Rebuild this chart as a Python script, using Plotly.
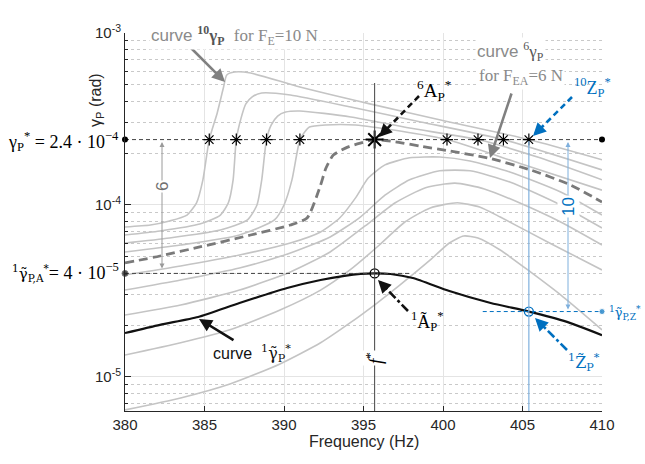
import plotly.graph_objects as go

# ---------------- data ----------------
f_c10 = [380, 381.6, 382.8, 383.9, 384.5, 384.9, 385.3, 385.8, 386.2, 386.4, 386.9, 387.9, 391.0, 395.4, 400.4, 405.4, 410]
a_c10 = [7.45e-5, 7.65e-5, 8.07e-5, 8.74e-5, 1.03e-4, 1.40e-4, 2.4e-4, 3.43e-4, 4.85e-4, 5.70e-4, 5.93e-4, 5.85e-4, 4.85e-4, 3.87e-4, 3.04e-4, 2.4e-4, 1.83e-4]
f_c9 = [380, 382.2, 384.7, 386.0, 386.5, 386.8, 387.0, 387.3, 387.6, 388.0, 388.6, 390.4, 394.2, 398.6, 403.8, 410]
a_c9 = [6.69e-5, 7.06e-5, 7.75e-5, 8.74e-5, 1.03e-4, 1.40e-4, 2.4e-4, 3.20e-4, 3.87e-4, 4.25e-4, 4.48e-4, 4.36e-4, 3.71e-4, 3.04e-4, 2.4e-4, 1.60e-4]
f_c8 = [380, 382.8, 386.0, 387.7, 388.3, 388.6, 388.9, 389.2, 389.6, 390.1, 391.0, 394.2, 397.9, 402.2, 406.1, 410]
a_c8 = [6.01e-5, 6.43e-5, 7.15e-5, 8.18e-5, 1.0e-4, 1.40e-4, 2.4e-4, 2.92e-4, 3.29e-4, 3.47e-4, 3.52e-4, 3.25e-4, 2.80e-4, 2.4e-4, 1.88e-4, 1.40e-4]
f_c7 = [380, 383.5, 387.2, 389.4, 390.0, 390.5, 391.0, 391.3, 391.6, 392.6, 394.5, 397.3, 400.25, 404.8, 410]
a_c7 = [5.33e-5, 5.85e-5, 6.69e-5, 8.18e-5, 1.0e-4, 1.40e-4, 2.4e-4, 2.66e-4, 2.84e-4, 2.92e-4, 2.92e-4, 2.69e-4, 2.4e-4, 1.75e-4, 1.22e-4]
f_c6 = [380, 382.2, 384.7, 387.9, 390.4, 391.45, 392.26, 392.64, 393.1, 394.0, 394.8, 395.7, 397.0, 398.55, 400.4, 402.8, 405.5, 408.0, 410]
a_c6 = [4.60e-5, 5.05e-5, 5.70e-5, 6.69e-5, 7.65e-5, 8.40e-5, 1.27e-4, 1.64e-4, 1.95e-4, 2.17e-4, 2.29e-4, 2.4e-4, 2.33e-4, 2.20e-4, 2.06e-4, 1.88e-4, 1.60e-4, 1.31e-4, 1.04e-4]
f_c5 = [380, 383.5, 387.2, 390.4, 392.3, 393.5, 394.5, 395.3, 396.35, 397.9, 399.8, 401.7, 404.2, 407.4, 410]
a_c5 = [3.92e-5, 4.42e-5, 5.12e-5, 6.01e-5, 6.97e-5, 8.40e-5, 1.10e-4, 1.435e-4, 1.71e-4, 1.88e-4, 1.90e-4, 1.80e-4, 1.555e-4, 1.19e-4, 8.74e-5]
f_c4 = [380, 383.5, 387.2, 390.4, 392.9, 394.8, 396.35, 397.9, 399.8, 401.7, 404.2, 407.4, 410]
a_c4 = [3.20e-5, 3.66e-5, 4.30e-5, 5.26e-5, 6.52e-5, 8.51e-5, 1.14e-4, 1.40e-4, 1.58e-4, 1.58e-4, 1.36e-4, 1.0e-4, 7.35e-5]
f_c3 = [380, 383.5, 387.2, 390.4, 392.9, 395.1, 397.0, 398.9, 400.75, 402.6, 404.8, 407.4, 410]
a_c3 = [2.29e-5, 2.62e-5, 3.20e-5, 4.08e-5, 5.33e-5, 7.55e-5, 1.03e-4, 1.26e-4, 1.34e-4, 1.24e-4, 1.03e-4, 7.96e-5, 5.85e-5]
f_c2 = [380, 383.5, 386.6, 389.75, 392.3, 394.15, 396.0, 397.6, 399.2, 400.9, 402.3, 403.6, 406.7, 410]
a_c2 = [1.34e-5, 1.58e-5, 1.88e-5, 2.45e-5, 3.20e-5, 4.19e-5, 5.85e-5, 7.96e-5, 9.61e-5, 1.03e-4, 9.73e-5, 8.51e-5, 6.01e-5, 4.19e-5]
f_c1 = [380, 383.5, 386.6, 389.75, 392.3, 394.15, 395.85, 397.3, 399.2, 400.4, 401.3, 402.2, 403.6, 405.5, 407.4, 410]
a_c1 = [6.43e-6, 7.55e-6, 9.1e-6, 1.19e-5, 1.58e-5, 2.06e-5, 2.69e-5, 3.43e-5, 4.79e-5, 6.01e-5, 6.60e-5, 6.43e-5, 5.47e-5, 4.08e-5, 3.00e-5, 1.88e-5]
f_lin = [380, 382.2, 384.6, 387.2, 390.2, 392.3, 393.8, 394.8, 395.7, 396.7, 398.1, 400.4, 403.0, 405.4, 407.8, 410]
a_lin = [1.80e-5, 2.01e-5, 2.23e-5, 2.69e-5, 3.29e-5, 3.66e-5, 3.87e-5, 3.97e-5, 4.0e-5, 3.97e-5, 3.76e-5, 3.16e-5, 2.69e-5, 2.4e-5, 2.09e-5, 1.75e-5]

f_stars = [385.3, 387.0, 388.9, 391.0, 400.25, 402.2, 403.8, 405.4]
gamma_star = 2.4e-4
gamma_A = 4e-5
gamma_Z = 2.4e-5
f_star = 395.7
f_Z = 405.4
x_ticks = [380, 385, 390, 395, 400, 405, 410]
y_ticks = [1e-5, 1e-4, 1e-3]
y_ticktext = ["10<sup>-5</sup>", "10<sup>-4</sup>", "10<sup>-3</sup>"]

# ---------------- layout helpers ----------------
W, H = 645, 464
L, R, T, B = 125, 602, 33, 411
px = lambda x: (x - L) / (R - L)
py = lambda y: (B - y) / (B - T)

GRAY = "#c4c4c4"
BLUE = "#0070C0"
TXTGRAY = "#8a8a8a"
SERIF = "Liberation Serif"
SERIF2 = "DejaVu Serif"
SANS = "Liberation Sans"

fig = go.Figure()

gray_curves = [(f_c1, a_c1), (f_c2, a_c2), (f_c3, a_c3), (f_c4, a_c4), (f_c5, a_c5),
               (f_c7, a_c7), (f_c8, a_c8), (f_c9, a_c9), (f_c10, a_c10)]
for fx, ay in gray_curves:
    fig.add_trace(go.Scatter(x=fx, y=ay, mode="lines",
                             line=dict(color=GRAY, width=1.6, shape="spline", smoothing=0.6),
                             hoverinfo="skip"))
fig.add_trace(go.Scatter(x=f_c6, y=a_c6, mode="lines",
                         line=dict(color="#7a7a7a", width=2.8, dash="9px,5px", shape="spline", smoothing=0.6)))
fig.add_trace(go.Scatter(x=f_lin, y=a_lin, mode="lines",
                         line=dict(color="#111111", width=2.2, shape="spline", smoothing=0.6)))

# reference lines
fig.add_trace(go.Scatter(x=[x_ticks[0], x_ticks[-1]], y=[gamma_star, gamma_star], mode="lines+markers",
                         line=dict(color="#444444", width=1, dash="4px,3px"),
                         marker=dict(size=6, color="black"), cliponaxis=False))
fig.add_trace(go.Scatter(x=[x_ticks[0], 397.9], y=[gamma_A, gamma_A], mode="lines+markers",
                         line=dict(color="#444444", width=1, dash="4px,3px"),
                         marker=dict(size=[6, 0], color="black"), cliponaxis=False))
fig.add_trace(go.Scatter(x=[402.5, x_ticks[-1]], y=[gamma_Z, gamma_Z], mode="lines+markers",
                         line=dict(color=BLUE, width=1, dash="4px,3px"),
                         marker=dict(size=[0, 6], color=BLUE), cliponaxis=False))

# stars and circles
fig.add_trace(go.Scatter(x=f_stars, y=[gamma_star] * len(f_stars), mode="markers",
                         marker=dict(symbol="asterisk-open", size=10, color="black",
                                     line=dict(color="black", width=1.2))))
fig.add_trace(go.Scatter(x=[f_star], y=[gamma_star], mode="markers",
                         marker=dict(symbol="asterisk-open", size=15, color="black",
                                     line=dict(color="black", width=2))))
fig.add_trace(go.Scatter(x=[f_star], y=[gamma_A], mode="markers",
                         marker=dict(symbol="circle-open", size=9, color="black",
                                     line=dict(color="black", width=1.3))))
fig.add_trace(go.Scatter(x=[f_Z], y=[gamma_Z], mode="markers",
                         marker=dict(symbol="circle-open", size=9, color=BLUE,
                                     line=dict(color=BLUE, width=1.3))))

shapes = []
shapes.append(dict(type="line", xref="x", yref="paper", x0=f_star, x1=f_star, y0=0, y1=py(83),
                   line=dict(color="#444444", width=1)))
shapes.append(dict(type="line", xref="x", yref="paper", x0=f_Z, x1=f_Z, y0=0, y1=py(141),
                   line=dict(color="#7fb0dd", width=1.2)))

anns = []

def dashed_arrow(x0, y0, x1, y1, color, dash, width=2.6):
    dx, dy = x0 - x1, y0 - y1
    n = (dx * dx + dy * dy) ** 0.5
    ux, uy = dx / n, dy / n
    shapes.append(dict(type="line", xref="paper", yref="paper",
                       x0=px(x0), y0=py(y0), x1=px(x1 + ux * 8), y1=py(y1 + uy * 8),
                       line=dict(color=color, width=width, dash=dash)))
    anns.append(dict(xref="paper", yref="paper", x=px(x1), y=py(y1), text="", showarrow=True,
                     ax=ux * 11, ay=uy * 11, arrowhead=2, arrowsize=1, arrowwidth=width,
                     arrowcolor=color))

def solid_arrow(x0, y0, x1, y1, color, width=2.6):
    anns.append(dict(xref="paper", yref="paper", x=px(x1), y=py(y1), text="", showarrow=True,
                     ax=x0 - x1, ay=y0 - y1, arrowhead=2, arrowsize=1, arrowwidth=width,
                     arrowcolor=color))

def text(x, y, s, size=18, color="black", family=SERIF, xanchor="center", angle=0, bg=None):
    d = dict(xref="paper", yref="paper", x=px(x), y=py(y), text=s, showarrow=False,
             xanchor=xanchor, yanchor="middle", textangle=angle,
             font=dict(size=size, color=color, family=family))
    if bg:
        d["bgcolor"] = bg
    anns.append(d)

# arrows
solid_arrow(186, 43, 225, 82, "#808080")
solid_arrow(512, 92, 490, 158, "#808080")
solid_arrow(235, 341, 199, 319, "#111111")
dashed_arrow(419, 96, 379, 137, "#111111", "6px,4px")
dashed_arrow(572, 97, 533, 136, BLUE, "6px,4px")
dashed_arrow(408, 311, 378, 280, "#111111", "dashdot")
dashed_arrow(567, 350, 535, 318, BLUE, "dashdot")

# double arrows "6" and "10"
anns.append(dict(xref="paper", yref="paper", x=px(162), y=py(142), ax=0, ay=128, text="",
                 showarrow=True, arrowside="end+start", arrowhead=2, startarrowhead=2,
                 arrowsize=1, arrowwidth=1, arrowcolor="#9a9a9a"))
anns.append(dict(xref="paper", yref="paper", x=px(568), y=py(142), ax=0, ay=169, text="",
                 showarrow=True, arrowside="end+start", arrowhead=2, startarrowhead=2,
                 arrowsize=1, arrowwidth=1, arrowcolor="#7fb0dd"))
text(162, 187, "6", size=17, color="#707070", family=SANS, angle=-90, bg="white")
text(568, 207, "10", size=17, color=BLUE, family=SANS, angle=-90, bg="white")

# labels
text(121, 141, "γ<sub>P</sub><sup>*</sup> = 2.4 · 10<sup>−4</sup>", size=18, xanchor="right")
text(121, 272, "<span style='font-family:DejaVu Serif;font-size:15px'><sup>1</sup>γ̃<sub>P,A</sub><sup>*</sup></span>"
               "= 4 · 10<sup>−5</sup>", size=18, family=SERIF, xanchor="right")
text(97, 100, "γ<sub>P</sub> (rad)", size=16, color="#262626", family=SANS, angle=-90)
text(364, 441, "Frequency (Hz)", size=16, color="#262626", family=SANS)
text(234, 36, "curve <span style='font-family:Liberation Serif;color:#555555'><b><sup>10</sup>γ<sub>P</sub></b></span>"
              "  <span style='font-family:Liberation Serif'>for F<sub>E</sub>=10 N</span>",
     size=17, color=TXTGRAY, family=SANS, bg="white")
text(510, 52, "curve <span style='font-family:Liberation Serif;color:#555555'><sup>6</sup>γ<sub>P</sub></span>",
     size=17, color=TXTGRAY, family=SANS, bg="white")
text(521, 77, "for F<sub>EA</sub>=6 N", size=17, color=TXTGRAY, family=SERIF, bg="white")
text(434, 90, "<sup>6</sup>A<sub>P</sub><sup>*</sup>", size=19)
text(592, 88, "<sup>10</sup>Z<sub>P</sub><sup>*</sup>", size=18, color=BLUE)
text(427, 321, "<sup>1</sup>Ã<sub>P</sub><sup>*</sup>", size=18)
text(584, 362, "<sup>1</sup>Z̃<sub>P</sub><sup>*</sup>", size=16, color=BLUE, family=SERIF2)
text(607, 313, "<sup>1</sup>γ̃<sub>P,Z</sub><sup>*</sup>", size=13, color=BLUE, family=SERIF2, xanchor="left")
text(252, 353, "curve  <span style='font-family:DejaVu Serif'><sup>1</sup>γ̃<sub>P</sub><sup>*</sup></span>",
     size=16, color="#111111", family=SANS)
text(374, 358, "<i>f</i><sup>*</sup>", size=19, angle=-90, bg="white")

minor_vals = [m * 10 ** e for e in (-6, -5, -4) for m in range(2, 10)]

fig.update_layout(
    width=W, height=H, showlegend=False,
    margin=dict(l=L, r=W - R, t=T, b=H - B, pad=0),
    paper_bgcolor="white", plot_bgcolor="white",
    shapes=shapes, annotations=anns,
    xaxis=dict(range=[380, 410], tickvals=x_ticks, ticks="inside", ticklen=5, tickcolor="#262626",
               showline=True, linecolor="#262626", linewidth=1, mirror=False,
               showgrid=True, gridcolor="#e4e4e4", gridwidth=1, zeroline=False,
               tickfont=dict(size=15, color="#262626", family=SANS)),
    yaxis=dict(type="log", range=[-5.198, -3], tickvals=y_ticks, ticktext=y_ticktext,
               ticks="inside", ticklen=6, tickcolor="#262626",
               showline=True, linecolor="#262626", linewidth=1,
               showgrid=True, gridcolor="#e4e4e4", gridwidth=1, zeroline=False,
               tickfont=dict(size=15, color="#262626", family=SANS),
               minor=dict(tickvals=minor_vals, ticks="inside", ticklen=3, tickcolor="#262626",
                          showgrid=True, gridcolor="#c9c9c9", griddash="dot", gridwidth=1)),
)

fig.write_html("out.html", config={"displayModeBar": False})
